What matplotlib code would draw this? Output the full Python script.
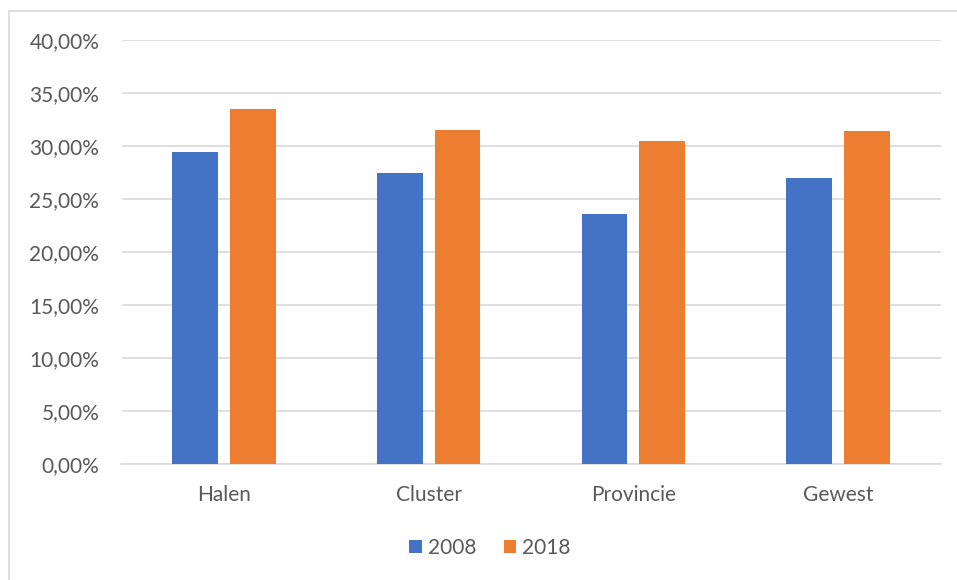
import matplotlib.pyplot as plt
from matplotlib.ticker import FuncFormatter
from matplotlib.lines import Line2D
import numpy as np

categories = ['Halen', 'Cluster', 'Provincie', 'Gewest']
series_2008 = [29.5, 27.5, 23.6, 27.0]
series_2018 = [33.5, 31.5, 30.5, 31.4]
years = ['2008', '2018']

plt.rcParams['font.family'] = ['Lato', 'DejaVu Sans']

fig = plt.figure(figsize=(9.57, 5.8), dpi=100)
ax = fig.add_axes([121.5 / 957, 1 - 464.3 / 580, 819 / 957, 424 / 580])

# light border (top and left only) round the chart area
fig.lines.append(Line2D([9 / 957, 9 / 957, 1], [0, 1 - 11 / 580, 1 - 11 / 580],
                        transform=fig.transFigure, color='#d9d9d9', linewidth=1.2))

x = np.arange(len(categories))
w = 0.224
off = 0.141
ax.bar(x - off, series_2008, w, color='#4472c4', label=years[0], zorder=3)
ax.bar(x + off, series_2018, w, color='#ed7d31', label=years[1], zorder=3)

ax.set_xlim(-0.5, len(categories) - 0.5)
ax.set_ylim(0, 40)
ax.set_yticks(np.arange(0, 41, 5))
ax.yaxis.set_major_formatter(FuncFormatter(lambda v, p: f'{v:.2f}%'.replace('.', ',')))
ax.set_xticks(x)
ax.set_xticklabels(categories)
ax.grid(axis='y', color='#d9d9d9', linewidth=1.2, zorder=0)
for s in ['top', 'right', 'left']:
    ax.spines[s].set_visible(False)
ax.spines['bottom'].set_color('#d9d9d9')
ax.spines['bottom'].set_linewidth(1.2)
ax.tick_params(axis='both', length=0, labelsize=15, colors='#595959')
ax.tick_params(axis='y', pad=16)
ax.tick_params(axis='x', pad=15)

ax.legend(loc='center', bbox_to_anchor=(490 / 957, 1 - 548 / 580), bbox_transform=fig.transFigure,
          ncol=2, frameon=False, fontsize=15, labelcolor='#595959', handlelength=0.6,
          handleheight=0.6, handletextpad=0.3, columnspacing=1.3)

fig.savefig('out.png', dpi=100)
